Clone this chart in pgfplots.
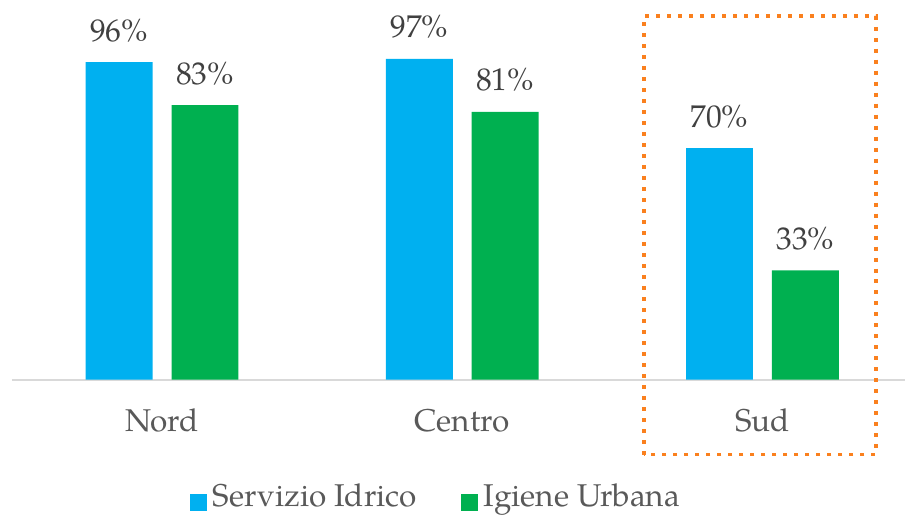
\documentclass[border=0pt]{standalone}
\usepackage{fontspec}
\setmainfont{TeX Gyre Pagella}
\usepackage{pgfplots}
\pgfplotsset{compat=1.18}
\definecolor{cblue}{RGB}{0,176,240}
\definecolor{cgreen}{RGB}{0,176,80}
\definecolor{corange}{RGB}{250,128,30}
\definecolor{txt}{RGB}{89,89,89}
\definecolor{val}{RGB}{64,64,64}
\definecolor{axl}{RGB}{217,217,217}
\newcommand{\bigf}{\fontsize{31.5}{36}\selectfont}
\begin{document}
\begin{tikzpicture}
\path (-12pt,-138pt) rectangle (894pt,380pt);
\begin{axis}[
 scale only axis, width=894pt, height=331pt,
 xmin=-0.5, xmax=2.475, ymin=0, ymax=100,
 ybar=19pt, bar width=67pt,
 axis x line=bottom, axis y line=none,
 x axis line style={draw=axl, line width=2pt, -},
 xtick={0,1,2}, xticklabels={Nord,Centro,Sud},
 xtick style={draw=none}, major tick length=0pt,
 xticklabel style={font=\bigf, text=txt, anchor=base, inner sep=0pt, yshift=-52pt},
 ytick=\empty,
 clip=false,
 /pgf/number format/assume math mode=true,
 nodes near coords={\pgfmathprintnumber{\pgfplotspointmeta}\%},
 every node near coord/.append style={font=\bigf, text=val, anchor=base, inner sep=0pt, yshift=21pt},
 legend style={draw=none, fill=none, at={(0.1991,-0.3557)}, anchor=west,
   inner sep=0pt, font=\bigf, text=txt, nodes={inner sep=0pt, anchor=base west},
   /tikz/every odd column/.style={column sep=6pt},
   /tikz/every even column/.style={column sep=44pt}},
 legend columns=2,
 legend image code/.code={\fill[#1,draw=none] (0pt,-5pt) rectangle (17pt,12pt);},
]
\addplot[fill=cblue, draw=none] coordinates {(0,96) (1,97) (2,70)};
\addplot[fill=cgreen, draw=none] coordinates {(0,83) (1,81) (2,33)};
\legend{Servizio Idrico, Igiene Urbana}
\draw[corange, line width=4pt, dash pattern=on 4pt off 7pt] (axis cs:1.6065,-22.66) rectangle (axis cs:2.3785,110);
\end{axis}
\end{tikzpicture}
\end{document}
